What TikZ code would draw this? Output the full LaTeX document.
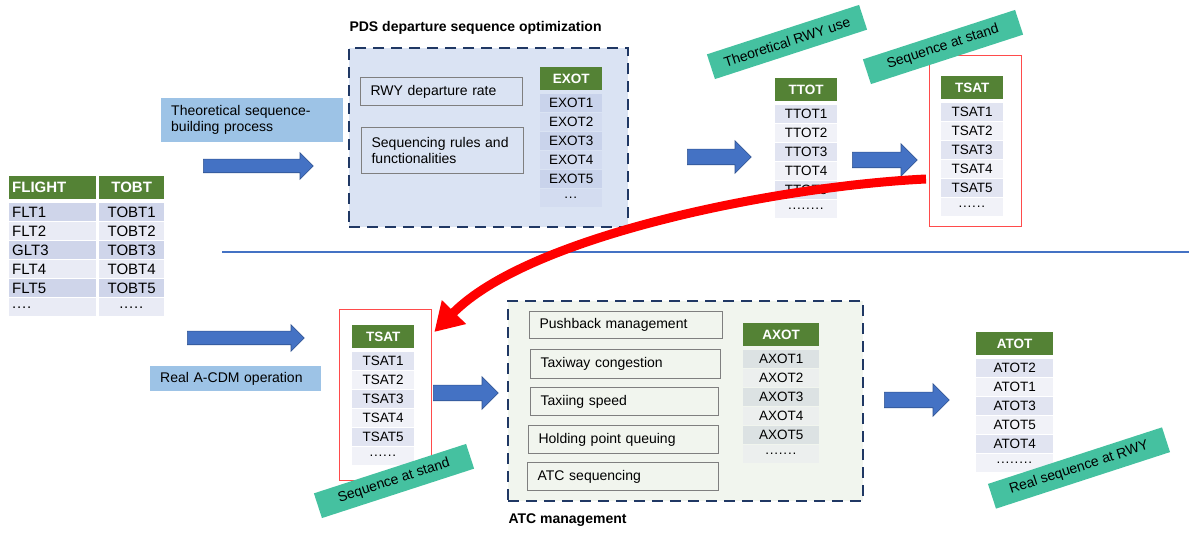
\documentclass[tikz,border=0pt]{standalone}
\usepackage{fontspec}
\setmainfont{Liberation Sans}
\usetikzlibrary{shapes.arrows,arrows.meta,calc}

\definecolor{hdrgreen}{HTML}{548235}
\definecolor{rowA}{HTML}{CFD5EA}
\definecolor{rowB}{HTML}{E9EBF5}
\definecolor{exotA}{HTML}{C9D3EB}
\definecolor{exotB}{HTML}{D3DCF0}
\definecolor{paleA}{HTML}{E1E4F1}
\definecolor{paleB}{HTML}{F1F2F8}
\definecolor{axotA}{HTML}{DCE2E3}
\definecolor{axotB}{HTML}{ECEFEE}
\definecolor{pdsfill}{HTML}{DAE3F3}
\definecolor{atcfill}{HTML}{F1F5EE}
\definecolor{procblue}{HTML}{9DC3E6}
\definecolor{labelgreen}{HTML}{45C1A0}
\definecolor{arrowblue}{HTML}{4472C4}
\definecolor{arrowedge}{HTML}{2F528F}
\definecolor{navy}{HTML}{203864}
\definecolor{framered}{HTML}{FF4B4B}
\definecolor{boxgrey}{HTML}{7F7F7F}

\newcommand\tabsize{\fontsize{13.5}{15}\selectfont}
\newcommand\rowdots[1]{\foreach\dotidx in {1,...,#1}{.\kern0.8pt}}

\tikzset{
  hdr/.style={fill=hdrgreen, text=white, font=\tabsize\bfseries, minimum height=23, inner xsep=3, inner ysep=0, anchor=north west},
  cell/.style={font=\tabsize, minimum height=18, inner xsep=3, inner ysep=0, anchor=north west},
  factorbox/.style={draw=boxgrey, line width=1.2, anchor=north west, inner xsep=10, inner ysep=0, align=left},
  procbox/.style={fill=procblue, anchor=north west, inner xsep=10, inner ysep=0, align=left},
  dashbox/.style={draw=navy, line width=2.2, dash pattern=on 11pt off 7pt, anchor=north west, inner sep=0},
  redframe/.style={draw=framered, line width=1.3, anchor=north west, inner sep=0},
  greenlabel/.style={fill=labelgreen, rotate=18, minimum width=160, minimum height=26, inner sep=0},
  blockarrow/.style={single arrow, draw=arrowedge, fill=arrowblue, line width=0.6, anchor=tail, inner xsep=0, inner ysep=6.5, single arrow head extend=6.5},
  bigarrow/.style={blockarrow, inner ysep=7.5, single arrow head extend=8.5},
  redcurve/.style={draw=red, line width=9, -{Triangle[length=28pt, width=32pt]}}
}

\def\seqcol(#1,#2,#3,#4,#5,#6,#7,#8,#9){
  \pgfmathsetmacro\colw{#3-6}
  \node[hdr, text width=\colw pt, #9] (#5) at (#1,#2) {#4};
  \foreach \entry [count=\k] in {#6}{
    \ifodd\k \def\rowfill{#7}\else\def\rowfill{#8}\fi
    \node[cell, fill=\rowfill, text width=\colw pt, #9] (#5-\k) at (#1,#2+8+19*\k) {\entry};
  }
}
\def\factor(#1,#2,#3,#4,#5,#6){
  \pgfmathsetmacro\fw{#4-20}
  \node[factorbox, text width=\fw pt, minimum height=#5] (#1) at (#2,#3) {#6};
}

\begin{document}
\begin{tikzpicture}[x=1pt, y=-1pt, font=\fontsize{14}{16}\selectfont]
\useasboundingbox (0,0) rectangle (1189,534);

\node[dashbox, fill=pdsfill, minimum width=279, minimum height=179] (pds) at (348,47) {};
\node[anchor=west, font=\fontsize{14}{16}\selectfont\bfseries] (pdstitle) at (346,28) {PDS departure sequence optimization};
\factor(rwyrate,360,77,162,28,RWY departure rate)
\factor(seqrules,361,127,162,46,Sequencing rules and\\functionalities)
\seqcol(540,67,62,EXOT,exot,{EXOT1,EXOT2,EXOT3,EXOT4,EXOT5,\rowdots{3}},exotA,exotB,{align=center})

\node[dashbox, fill=atcfill, minimum width=355, minimum height=200] (atc) at (507,300) {};
\node[anchor=west, font=\fontsize{14}{16}\selectfont\bfseries] (atctitle) at (505,520) {ATC management};
\factor(pushback,529,311,193,27,Pushback management)
\factor(taxiway,530,349,190,29,Taxiway congestion)
\factor(taxispeed,530,387,188,28,Taxiing speed)
\factor(holding,528,425,190,28,Holding point queuing)
\factor(atcseq,527,462,191,28,ATC sequencing)
\seqcol(743,323,76,AXOT,axot,{AXOT1,AXOT2,AXOT3,AXOT4,AXOT5,\rowdots{7}},axotA,axotB,{align=center})

\begin{scope}
\renewcommand\tabsize{\fontsize{15}{17}\selectfont}
\seqcol(9,176,87,FLIGHT,flight,{FLT1,FLT2,GLT3,FLT4,FLT5,\rowdots{4}},rowA,rowB,{align=left})
\seqcol(99,176,65,TOBT,tobt,{TOBT1,TOBT2,TOBT3,TOBT4,TOBT5,\rowdots{5}},rowA,rowB,{align=center})
\end{scope}

\node[procbox, text width=162, minimum height=44] (theoproc) at (161,98) {Theoretical sequence-\\building process};
\node[procbox, text width=151, minimum height=25] (realop) at (150,366) {Real A-CDM operation};

\node[redframe, minimum width=92, minimum height=171] (redtop) at (929,55) {};
\node[redframe, minimum width=92, minimum height=171] (redbot) at (339,309) {};

\seqcol(775,78,62,TTOT,ttot,{TTOT1,TTOT2,TTOT3,TTOT4,TTOT5,\rowdots{8}},paleA,paleB,{align=center})
\seqcol(941,76,62,TSAT,tsattop,{TSAT1,TSAT2,TSAT3,TSAT4,TSAT5,\rowdots{6}},paleA,paleB,{align=center})
\seqcol(352,325,62,TSAT,tsatbot,{TSAT1,TSAT2,TSAT3,TSAT4,TSAT5,\rowdots{6}},paleA,paleB,{align=center})
\seqcol(976,332,77,ATOT,atot,{ATOT2,ATOT1,ATOT3,ATOT5,ATOT4,\rowdots{8}},paleA,paleB,{align=center})

\draw[arrowblue, line width=2] (222,252) -- (1189,252);

\node[blockarrow, minimum height=110] (arr1) at (203,166) {};
\node[bigarrow, minimum height=64] (arr2) at (687,157) {};
\node[bigarrow, minimum height=65] (arr3) at (852,160) {};
\node[blockarrow, minimum height=117] (arr4) at (187,338) {};
\node[bigarrow, minimum height=65] (arr5) at (433,393) {};
\node[bigarrow, minimum height=65] (arr6) at (884,400) {};

\coordinate (redstart) at (926,179);
\draw[redcurve] (redstart) .. controls (780,186) and (530,235) .. ([shift={(2,23)}]redbot.north east);

\node[greenlabel] (rwyuse) at (787,42) {Theoretical RWY use};
\node[greenlabel] (standtop) at (943,47) {Sequence at stand};
\node[greenlabel] (standbot) at (394,481) {Sequence at stand};
\node[greenlabel, minimum width=183] (rwyseq) at (1079,468) {Real sequence at RWY};
\end{tikzpicture}
\end{document}
